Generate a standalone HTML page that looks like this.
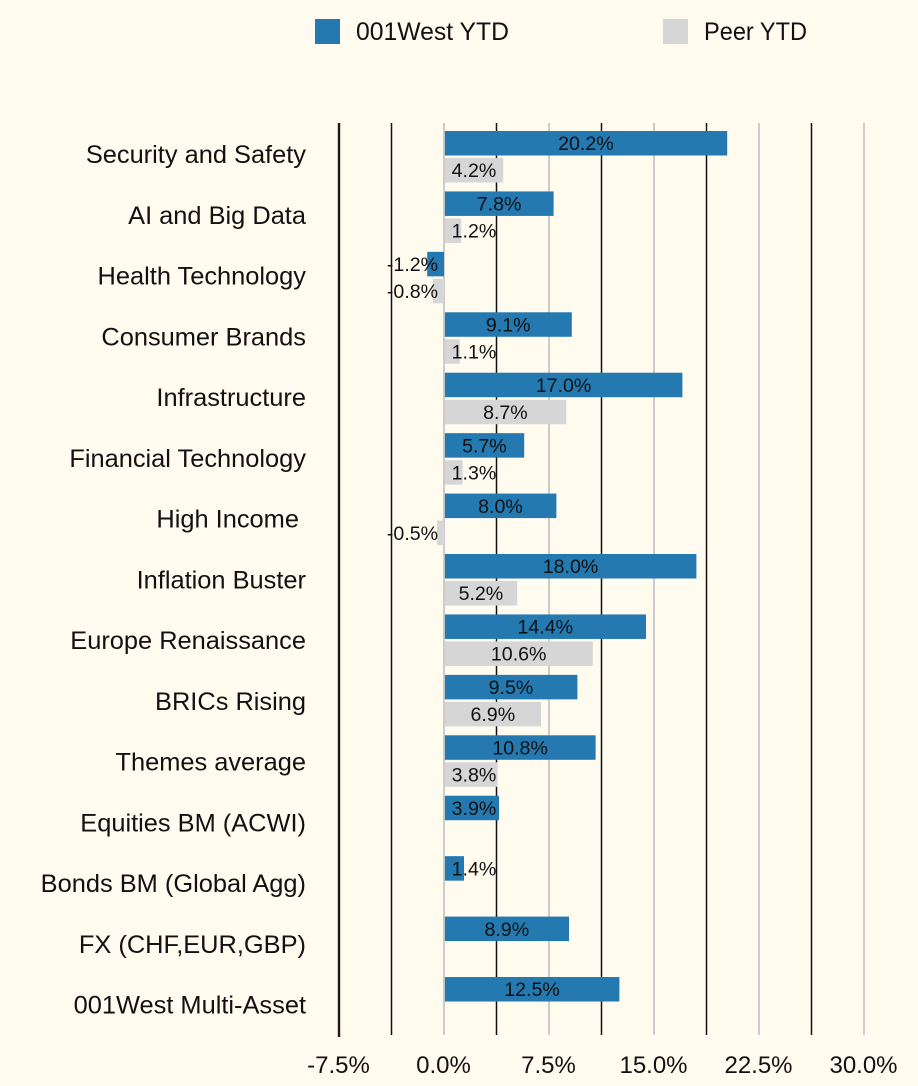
<!DOCTYPE html>
<html lang="en">
<head>
<meta charset="utf-8">
<title>001West YTD vs Peer YTD</title>
<style>
html,body{margin:0;padding:0;background:#FFFBEF;}
svg{display:block;}
text{font-family:"Liberation Sans",sans-serif;fill:#111;}
</style>
</head>
<body>
<svg id="chart" width="918" height="1086" viewBox="0 0 918 1086" xmlns="http://www.w3.org/2000/svg">
  <rect x="0" y="0" width="918" height="1086" fill="#FFFBEF"/>
  <g>
    <g>
      <rect x="315" y="19" width="25" height="25" fill="#2379B0"/>
      <text x="356" y="40" font-size="24.6" textLength="153" lengthAdjust="spacingAndGlyphs">001West YTD</text>
    </g>
    <g>
      <rect x="663" y="19" width="25" height="25" fill="#D6D6D6"/>
      <text x="704" y="40" font-size="24.6" textLength="103" lengthAdjust="spacingAndGlyphs">Peer YTD</text>
    </g>
  </g>
  <g id="grid"></g>
  <g id="bars"></g>
  <g id="values"></g>
  <g id="cats"></g>
  <g id="ticks"></g>
</svg>
<script>
const categories = ["Security and Safety","AI and Big Data","Health Technology","Consumer Brands","Infrastructure","Financial Technology","High Income ","Inflation Buster","Europe Renaissance","BRICs Rising","Themes average","Equities BM (ACWI)","Bonds BM (Global Agg)","FX (CHF,EUR,GBP)","001West Multi-Asset"];
const westValues = [20.2,7.8,-1.2,9.1,17.0,5.7,8.0,18.0,14.4,9.5,10.8,3.9,1.4,8.9,12.5];
const peerValues = [4.2,1.2,-0.8,1.1,8.7,1.3,-0.5,5.2,10.6,6.9,3.8,null,null,null,null];
const gridValues = [-7.5,-3.75,0,3.75,7.5,11.25,15,18.75,22.5,26.25,30];
const tickLabels = ["-7.5%","0.0%","7.5%","15.0%","22.5%","30.0%"];
const tickValues = [-7.5,0,7.5,15,22.5,30];

const NS = "http://www.w3.org/2000/svg";
const gridG = document.getElementById("grid");
const barsG = document.getElementById("bars");
const valuesG = document.getElementById("values");
const catsG = document.getElementById("cats");
const ticksG = document.getElementById("ticks");

function xScale(v){ return 444 + v * 14; }
function bandTop(i){ return 131 + i * 60.43; }
function catBaseline(i){ return 163 + i * 60.76; }

function make(tag, parent, attrs){
  const el = document.createElementNS(NS, tag);
  for (const k in attrs) el.setAttribute(k, attrs[k]);
  parent.appendChild(el);
  return el;
}

gridValues.forEach(function(v, i){
  const dark = i % 2 === 1;
  const first = i === 0;
  const line = make("line", gridG, {
    x1: xScale(v), x2: xScale(v),
    y1: 123, y2: first ? 1037 : 1035,
    stroke: first ? "#1a1a1a" : (dark ? "#111" : "#BDBDBD"),
    "stroke-width": first ? 2.4 : 1.5
  });
  
  
});

function drawBar(v, top, fill){
  const x0 = v >= 0 ? xScale(0) + 0.9 : xScale(v);
  const x1 = v >= 0 ? xScale(v) + 0.4 : xScale(0);
  const r = make("rect", barsG, {x: x0, y: top, width: Math.max(0, x1 - x0), height: 24.5, fill: fill});
  return r;
}

function drawValue(v, top){
  const halfMin = 30;
  const center = v >= 0
    ? Math.max(xScale(v / 2) + 0.5, xScale(0) + halfMin)
    : Math.min(xScale(v / 2), xScale(0) - halfMin - 1.5);
  const t = make("text", valuesG, {x: center, y: top + 19.2, "font-size": 19.6, "text-anchor": "middle"});
  t.textContent = v.toFixed(1) + "%";
  return t;
}

categories.forEach(function(name, i){
  const top = bandTop(i);
  const w = westValues[i];
  const p = peerValues[i];

  const westBar = drawBar(w, top, "#2379B0");
  
  
  const westLabel = drawValue(w, top);
  
  

  if (p !== null) {
    const peerTop = top + 27;
    const peerBar = drawBar(p, peerTop, "#D6D6D6");
    
    
    const peerLabel = drawValue(p, peerTop);
    
    
  }

  const c = make("text", catsG, {x: 306, y: catBaseline(i), "font-size": 25.4, "text-anchor": "end"});
  c.style.whiteSpace = "pre";
  c.textContent = name;
  
  
});

tickLabels.forEach(function(label, i){
  const t = make("text", ticksG, {x: xScale(tickValues[i]) - 0.5, y: 1073, "font-size": 24, "text-anchor": "middle"});
  t.textContent = label;
  
  
});
</script>
</body>
</html>
